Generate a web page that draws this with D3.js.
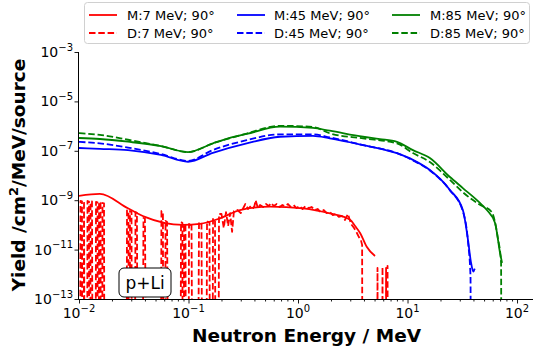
<!DOCTYPE html>
<html><head><meta charset="utf-8">
<script src="https://cdn.jsdelivr.net/npm/d3@7"></script>
<style>body{margin:0;background:#fff}svg{display:block}text{font-family:"DejaVu Sans",sans-serif}</style>
</head><body>
<svg id="c" width="533" height="349"></svg>
<script>
// ---- data ----
const m7E = [0.01, 0.0155, 0.028, 0.040, 0.089, 0.127, 0.194, 0.295, 0.555, 1.11, 1.96, 2.99, 3.32, 3.70, 4.24, 5.05];
const m7Y = [1.5e-9, 1.8e-9, 4.7e-10, 2.1e-10, 1.0e-10, 1.1e-10, 1.85e-10, 4.0e-10, 5.5e-10, 4.7e-10, 2.9e-10, 1.6e-10, 9.0e-11, 4.6e-11, 1.3e-11, 5.5e-12];

const d7E = [0.0100, 0.01032, 0.01065, 0.0109, 0.01111, 0.0116, 0.01196, 0.01234, 0.01254, 0.01274, 0.01314, 0.0138,
  0.01430, 0.01476, 0.01500, 0.01523, 0.01572, 0.0160, 0.01639, 0.01692, 0.0175, 0.0265,
  0.02744, 0.02832, 0.0288, 0.02923, 0.03017, 0.031, 0.0328, 0.0338, 0.036, 0.0388, 0.0400, 0.045, 0.054,
  0.0566, 0.0584, 0.0600, 0.0617, 0.0637, 0.070, 0.082,
  0.0854, 0.0880, 0.0895, 0.0910, 0.0938, 0.097, 0.1011, 0.1040, 0.1065, 0.115, 0.1247, 0.1285, 0.1314, 0.140,
  0.1476, 0.1515, 0.1555, 0.161, 0.1674, 0.171, 0.1746, 0.182, 0.1899,
  0.20, 0.21, 0.22, 0.23, 0.24, 0.25, 0.26, 0.28, 0.30, 0.32, 0.33, 0.35, 0.37, 0.39, 0.40, 0.41, 0.43, 0.45, 0.48, 0.51,
  0.54, 0.57, 0.60, 0.64, 0.68, 0.72, 0.76, 0.81, 0.86, 0.91, 0.97, 1.03, 1.10, 1.17, 1.25, 1.33, 1.42, 1.51, 1.61, 1.72,
  1.83, 1.95, 2.08, 2.22, 2.36, 2.52, 2.68, 2.86, 3.05, 3.25, 3.45, 3.60, 3.75, 3.85, 3.95,
  4.6, 5.15, 5.32, 5.5, 5.7, 5.91, 6.15, 6.37, 6.47, 6.57, 6.78, 8.0];
const d7Y = [0, 9.3e-10, 9.0e-10, 0, 9.3e-10, 0, 9.3e-10, 8.8e-10, 0, 8.5e-10, 9.0e-10, 0,
  8.5e-10, 8.2e-10, 0, 8.5e-10, 8.0e-10, 0, 7.7e-10, 7.4e-10, 0, 0,
  3.9e-10, 3.7e-10, 0, 3.65e-10, 3.4e-10, 0, 3.3e-10, 3.1e-10, 0, 1.9e-10, 1.8e-10, 0, 0,
  3.65e-10, 3.0e-10, 0, 1.44e-10, 1.3e-10, 0, 0,
  1.31e-10, 1.2e-10, 0, 1.09e-10, 1.0e-10, 0, 1.09e-10, 1.0e-10, 1.19e-10, 0, 1.31e-10, 1.2e-10, 1.09e-10, 0,
  1.44e-10, 1.3e-10, 1.31e-10, 0, 1.73e-10, 1.5e-10, 1.58e-10, 0, 2.76e-10,
  2.76e-10, 7.5e-11, 3.3e-10, 9.0e-11, 3.0e-10, 5.2e-11, 3.65e-10, 4.0e-10, 3.0e-10, 5.3e-10, 7.0e-10, 4.4e-10, 5.8e-10, 4.8e-10, 5.8e-10, 1.0e-9, 4.8e-10, 6.4e-10, 5.3e-10, 7.0e-10,
  5.8e-10, 7.7e-10, 5.8e-10, 7.0e-10, 5.3e-10, 6.4e-10, 5.8e-10, 7.0e-10, 5.3e-10, 6.4e-10, 4.8e-10, 5.8e-10, 4.4e-10, 5.8e-10, 4.8e-10, 5.3e-10, 4.0e-10, 4.4e-10, 3.3e-10, 4.0e-10,
  3.0e-10, 3.3e-10, 2.5e-10, 2.76e-10, 2.1e-10, 2.3e-10, 1.58e-10, 2.76e-10, 1.09e-10, 7.5e-11, 4.7e-11, 3.2e-11, 2.45e-11, 1.55e-11, 0,
  0, 0, 1.8e-12, 0, 0, 2.0e-12, 0, 1.8e-12, 0, 2.2e-12, 0, 0];

const m45E = [0.01, 0.0155, 0.028, 0.056, 0.099, 0.167, 0.34, 0.685, 1.37, 1.95, 3.93, 8.0, 11.2, 16, 24.4, 32, 35.7, 37.9, 39.9, 41.1];
const m45Y = [1.3e-7, 1.2e-7, 1.07e-7, 6.8e-8, 3.6e-8, 8.3e-8, 2.0e-7, 3.7e-7, 4.0e-7, 3.2e-7, 1.7e-7, 8.0e-8, 4.3e-8, 1.66e-8, 2.6e-9, 4.0e-10, 2.4e-11, 3.2e-12, 1.3e-12, 1.7e-12];

const d45E = [0.01, 0.0155, 0.028, 0.056, 0.099, 0.167, 0.34, 0.685, 1.37, 1.95, 3.93, 8.0, 11.2, 16, 24.4, 32, 35.7, 37.6, 38.2];
const d45Y = [2.3e-7, 2.0e-7, 1.35e-7, 7.4e-8, 3.9e-8, 1.07e-7, 2.7e-7, 4.6e-7, 4.6e-7, 3.5e-7, 1.7e-7, 8.1e-8, 4.1e-8, 1.6e-8, 2.5e-9, 3.6e-10, 2.0e-11, 8.0e-13, 0];

const m85E = [0.01, 0.0155, 0.028, 0.056, 0.099, 0.167, 0.23, 0.34, 0.685, 1.37, 1.95, 3.93, 5.6, 8.0, 11.2, 16, 24.4, 32, 45.8, 53, 63, 70, 73];
const m85Y = [3.3e-7, 3.0e-7, 2.33e-7, 1.56e-7, 8.9e-8, 2.0e-7, 3.2e-7, 4.8e-7, 9.5e-7, 8.4e-7, 6.5e-7, 3.7e-7, 3.0e-7, 2.3e-7, 1.07e-7, 5.1e-8, 8.7e-9, 3.1e-9, 7.8e-10, 4.0e-10, 1.2e-10, 7.3e-12, 2.9e-12];

const d85E = [0.01, 0.0155, 0.028, 0.056, 0.099, 0.167, 0.34, 0.685, 1.37, 1.95, 3.93, 8.0, 11.2, 16, 24.4, 32, 45.8, 58.5, 66.6, 71.5, 72.5];
const d85Y = [5.2e-7, 4.4e-7, 2.8e-7, 1.55e-7, 8.9e-8, 2.0e-7, 5.0e-7, 1.03e-6, 9.2e-7, 5.1e-7, 3.2e-7, 2.0e-7, 8.1e-8, 3.5e-8, 6.6e-9, 2.1e-9, 6.5e-10, 3.4e-10, 3.2e-11, 2.9e-12, 0];

const legendLabels = ["M:7 MeV; 90°", "D:7 MeV; 90°", "M:45 MeV; 90°", "D:45 MeV; 90°", "M:85 MeV; 90°", "D:85 MeV; 90°"];
const xTickExps = [-2, -1, 0, 1, 2];
const yTickExps = [-3, -5, -7, -9, -11, -13];

// ---- drawing ----
const svg = d3.select("#c");
const L = 79, R = 532, T = 52, B = 299;
const x = d3.scaleLog().domain([0.01, 137]).range([L, R]);
const y = d3.scaleLog().domain([1e-13, 1e-3]).range([B, T]);

svg.append("defs").append("clipPath").attr("id", "pc")
  .append("rect").attr("x", L).attr("y", T).attr("width", R - L + 1).attr("height", B - T);

const series = [
  {E: m7E, Y: m7Y, c: "#ff0000", dash: false, curve: d3.curveMonotoneX},
  {E: d7E, Y: d7Y, c: "#ff0000", dash: true, curve: d3.curveLinear},
  {E: m45E, Y: m45Y, c: "#0000ff", dash: false, curve: d3.curveMonotoneX},
  {E: d45E, Y: d45Y, c: "#0000ff", dash: true, curve: d3.curveMonotoneX},
  {E: m85E, Y: m85Y, c: "#008000", dash: false, curve: d3.curveMonotoneX},
  {E: d85E, Y: d85Y, c: "#008000", dash: true, curve: d3.curveMonotoneX}
];
const DASH = "6.5,2.8";
const g = svg.append("g").attr("clip-path", "url(#pc)");
series.forEach(s => {
  const pts = s.E.map((e, i) => [e, s.Y[i]]);
  const line = d3.line().x(d => x(d[0])).y(d => d[1] > 0 ? y(d[1]) : y(1e-40)).curve(s.curve);
  g.append("path").attr("d", line(pts)).attr("fill", "none").attr("stroke", s.c)
    .attr("stroke-width", 1.8).attr("stroke-dasharray", s.dash ? DASH : null)
    .attr("stroke-linejoin", "round");
});

// axes
const major = xTickExps.map(e => Math.pow(10, e));
const minor = [];
[-2, -1, 0, 1, 2].forEach(e => { for (let k = 2; k <= 9; k++) { const v = k * Math.pow(10, e); if (v <= 137) minor.push(v); } });
const xa = svg.append("g").attr("transform", `translate(0,${B})`);
xa.call(d3.axisBottom(x).tickValues(major).tickSize(4.5).tickFormat(""));
const xm = svg.append("g").attr("transform", `translate(0,${B})`);
xm.call(d3.axisBottom(x).tickValues(minor).tickSize(2.5).tickFormat(""));
xm.select(".domain").remove();
xa.select(".domain").attr("d", `M${L},0.5H${R + 1}`);

const ya = svg.append("g").attr("transform", `translate(${L},0)`);
ya.call(d3.axisLeft(y).tickValues(yTickExps.map(e => Math.pow(10, e))).tickSize(4.5).tickFormat(""));
ya.select(".domain").attr("d", `M-0.5,${T}V${B + 0.5}`);
svg.selectAll(".domain").attr("stroke", "#000").attr("stroke-width", 1);
svg.selectAll(".tick line").attr("stroke", "#000").attr("stroke-width", 0.9);

function supLabel(sel, base, exp, anchor) {
  const t = sel.append("text").attr("text-anchor", anchor).attr("font-size", 14).attr("fill", "#000");
  t.append("tspan").text(base);
  t.append("tspan").attr("dy", -6.5).attr("font-size", 10).text(exp);
  return t;
}
xTickExps.forEach(e => {
  supLabel(svg, "10", (e < 0 ? "\u2212" : "") + Math.abs(e), "middle").attr("x", x(Math.pow(10, e))).attr("y", 318);
});
yTickExps.forEach(e => {
  supLabel(svg, "10", "\u2212" + Math.abs(e), "end").attr("x", 73).attr("y", y(Math.pow(10, e)) + 5);
});

// axis titles
svg.append("text").attr("x", 306.5).attr("y", 342).attr("text-anchor", "middle")
  .attr("font-size", 18.5).attr("font-weight", "bold").text("Neutron Energy / MeV");
const yl = svg.append("text").attr("transform", "translate(25,175) rotate(-90)")
  .attr("text-anchor", "middle").attr("font-size", 18.5).attr("font-weight", "bold");
yl.append("tspan").text("Yield /cm");
yl.append("tspan").attr("dy", -7).attr("font-size", 13).text("2");
yl.append("tspan").attr("dy", 7).text("/MeV/source");

// p+Li box
svg.append("rect").attr("x", 119).attr("y", 268).attr("width", 52).attr("height", 29).attr("rx", 5)
  .attr("fill", "#fff").attr("stroke", "#000").attr("stroke-width", 1);
svg.append("text").attr("x", 145).attr("y", 289).attr("text-anchor", "middle").attr("font-size", 17).text("p+Li");

// legend
svg.append("rect").attr("x", 84.5).attr("y", 2.5).attr("width", 445).attr("height", 41).attr("rx", 3)
  .attr("fill", "#fff").attr("fill-opacity", 0.8).attr("stroke", "#d0d0d0").attr("stroke-width", 1);
const colH = [89, 237, 392], colT = [127, 274, 430], rowY = [15, 33];
series.forEach((s, i) => {
  const c = Math.floor(i / 2), r = i % 2;
  svg.append("line").attr("x1", colH[c]).attr("x2", colH[c] + 28).attr("y1", rowY[r]).attr("y2", rowY[r])
    .attr("stroke", s.c).attr("stroke-width", 1.8).attr("stroke-dasharray", s.dash ? DASH : null);
  svg.append("text").attr("x", colT[c]).attr("y", rowY[r] + 4.7).attr("font-size", 13).text(legendLabels[i]);
});
</script>
</body></html>
